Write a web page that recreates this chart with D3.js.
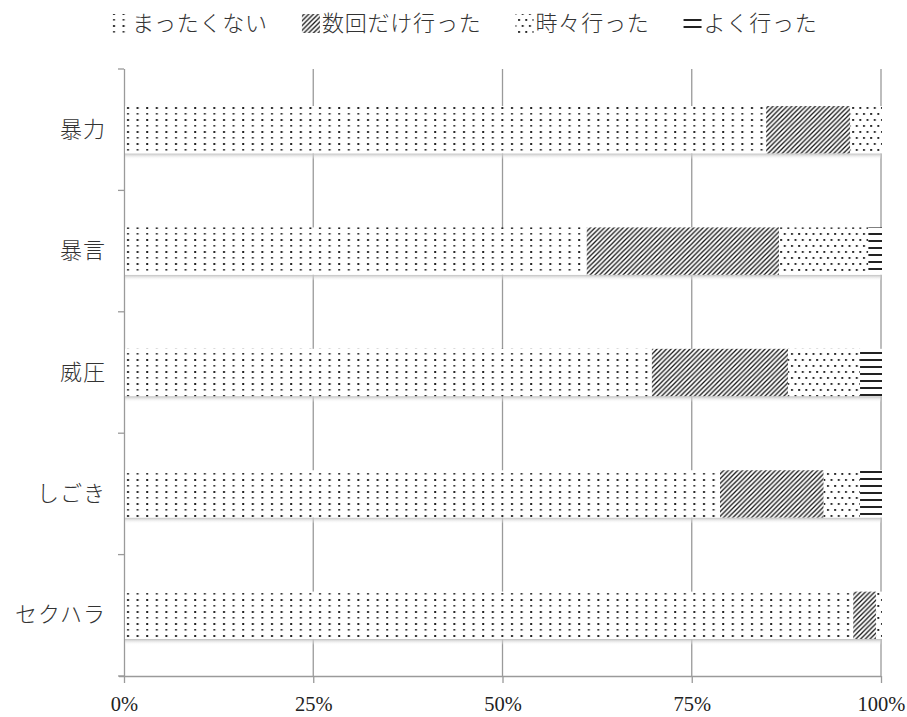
<!DOCTYPE html>
<html>
<head>
<meta charset="utf-8">
<script src="https://cdn.jsdelivr.net/npm/d3@7"></script>
<style>
  body { margin: 0; background: #fff; }
  svg { display: block; }
</style>
</head>
<body>
<div></div>
<script>
let categories = ["暴力", "暴言", "威圧", "しごき", "セクハラ"]
let series = ["まったくない", "数回だけ行った", "時々行った", "よく行った"]
let never = [84.7, 61.0, 69.6, 78.6, 96.2]
let fewTimes = [11.1, 25.4, 18.0, 13.7, 3.0]
let sometimes = [4.2, 11.8, 9.5, 4.8, 0.8]
let often = [0, 1.8, 2.9, 2.9, 0]
let tickValues = [0, 25, 50, 75, 100]
let tickLabels = ["0%", "25%", "50%", "75%", "100%"]

let W = 907, H = 717
let margin = {top: 69, right: 26, bottom: 41, left: 124}
let width = W - margin.left - margin.right
let height = H - margin.top - margin.bottom
let jpFont = "'Noto Sans CJK JP', 'Noto Sans', sans-serif"
let gridColor = "#9a9a9a"

let svg = d3.select("div")
    .append("svg")
    .attr("width", W)
    .attr("height", H)

// patterns
let defs = svg.append("defs")

let p0 = defs.append("pattern").attr("id", "pat0")
    .attr("patternUnits", "userSpaceOnUse").attr("width", 9.6).attr("height", 12)
p0.append("rect").attr("width", 9.6).attr("height", 12).attr("fill", "#fff")
p0.append("rect").attr("x", 3).attr("y", 2).attr("width", 2).attr("height", 2).attr("fill", "#222")
p0.append("rect").attr("x", 3).attr("y", 8).attr("width", 2).attr("height", 1.6).attr("fill", "#333")

let p1 = defs.append("pattern").attr("id", "pat1")
    .attr("patternUnits", "userSpaceOnUse").attr("width", 4.7).attr("height", 4.7)
p1.append("rect").attr("width", 4.7).attr("height", 4.7).attr("fill", "#fff")
p1.append("path").attr("d", "M-1,5.7 L5.7,-1 M-1,1 L1,-1 M3.7,5.7 L5.7,3.7")
    .attr("stroke", "#151515").attr("stroke-width", 1.3)

let p2 = defs.append("pattern").attr("id", "pat2")
    .attr("patternUnits", "userSpaceOnUse").attr("width", 7.2).attr("height", 12)
p2.append("rect").attr("width", 7.2).attr("height", 12).attr("fill", "#fff")
p2.append("rect").attr("x", 1).attr("y", 2).attr("width", 1.9).attr("height", 1.9).attr("fill", "#222")
p2.append("rect").attr("x", 4.6).attr("y", 8).attr("width", 1.9).attr("height", 1.9).attr("fill", "#222")

let p3 = defs.append("pattern").attr("id", "pat3")
    .attr("patternUnits", "userSpaceOnUse").attr("width", 8).attr("height", 7)
p3.append("rect").attr("width", 8).attr("height", 7).attr("fill", "#fff")
p3.append("rect").attr("y", 3).attr("width", 8).attr("height", 2).attr("fill", "#222")

let shade = defs.append("linearGradient").attr("id", "shade")
    .attr("x1", 0).attr("y1", 0).attr("x2", 0).attr("y2", 1)
shade.append("stop").attr("offset", "0%").attr("stop-color", "#bdbdbd")
shade.append("stop").attr("offset", "100%").attr("stop-color", "#fff").attr("stop-opacity", 0)

let g = svg.append("g")
    .attr("transform", "translate(" + margin.left + "," + margin.top + ")")

let x = d3.scaleLinear().domain([0, 100]).range([0, width])
let y = d3.scaleBand().domain(categories).range([0, height])
    .paddingInner(0.61).paddingOuter(0.305)

// gridlines
g.append("g")
    .selectAll("line")
    .data(tickValues.slice(1))
    .enter()
    .append("line")
    .attr("x1", function (d) { return x(d) })
    .attr("x2", function (d) { return x(d) })
    .attr("y1", 0)
    .attr("y2", height)
    .attr("stroke", gridColor)
    .attr("stroke-width", 1.3)

// x axis
let xAxis = g.append("g")
    .attr("transform", "translate(0," + height + ")")
    .call(d3.axisBottom(x).tickValues(tickValues).tickSize(7).tickPadding(13)
        .tickFormat(function (d, i) { return tickLabels[i] }))
xAxis.select(".domain").attr("d", "M-5,0.5H" + width).attr("stroke", gridColor).attr("stroke-width", 1.3)
xAxis.selectAll(".tick line").attr("stroke", gridColor).attr("stroke-width", 1.3)
xAxis.selectAll("text")
    .attr("font-family", "'Liberation Serif', 'Times New Roman', serif")
    .attr("font-size", 20.5)
    .attr("fill", "#222")

// y axis
let yAxis = g.append("g")
    .call(d3.axisLeft(y).tickSize(0).tickPadding(18))
yAxis.select(".domain").attr("d", "M0.5,0V" + height).attr("stroke", gridColor).attr("stroke-width", 1.3)
yAxis.selectAll("text")
    .attr("font-family", jpFont)
    .attr("font-weight", 300)
    .attr("font-size", 22)
    .attr("letter-spacing", 1)
    .attr("fill", "#333")
yAxis.append("g")
    .selectAll("line")
    .data(d3.range(categories.length + 1))
    .enter()
    .append("line")
    .attr("x1", -6)
    .attr("x2", 0)
    .attr("y1", function (d) { return d * y.step() })
    .attr("y2", function (d) { return d * y.step() })
    .attr("stroke", gridColor)
    .attr("stroke-width", 1.3)

// stacked data
let rows = categories.map(function (c, i) {
    return {cat: c, s0: never[i], s1: fewTimes[i], s2: sometimes[i], s3: often[i]}
})
let stack = d3.stack().keys(["s0", "s1", "s2", "s3"])(rows)

// bar shadow
g.append("g")
    .selectAll("rect")
    .data(rows)
    .enter()
    .append("rect")
    .attr("x", x(0) + 1)
    .attr("y", function (d) { return y(d.cat) + y.bandwidth() })
    .attr("width", x(100) - x(0) - 1)
    .attr("height", 6)
    .attr("fill", "url(#shade)")

g.append("g")
    .selectAll("g")
    .data(stack)
    .enter()
    .append("g")
    .attr("fill", function (d, i) { return "url(#pat" + i + ")" })
    .selectAll("rect")
    .data(function (d) { return d })
    .enter()
    .append("rect")
    .attr("x", function (d) { return x(d[0]) + 1 })
    .attr("y", function (d) { return y(d.data.cat) })
    .attr("width", function (d) { return Math.max(0, x(d[1]) - x(d[0])) })
    .attr("height", y.bandwidth())

// legend
let legend = svg.append("g").attr("transform", "translate(0,23)")
let items = legend.selectAll("g")
    .data(series)
    .enter()
    .append("g")
items.append("rect")
    .attr("x", 2)
    .attr("y", -9)
    .attr("width", 18)
    .attr("height", 19)
    .attr("fill", function (d, i) { return "url(#pat" + i + ")" })
items.append("text")
    .attr("x", 22)
    .attr("dy", "0.35em")
    .attr("font-family", jpFont)
    .attr("font-weight", 300)
    .attr("font-size", 22)
    .attr("letter-spacing", 0.8)
    .attr("fill", "#333")
    .text(function (d) { return d })

let pos = 110
items.each(function () {
    let w = 22 + d3.select(this).select("text").node().getComputedTextLength()
    d3.select(this).attr("transform", "translate(" + pos + ",0)")
    pos += w + 32
})
</script>
</body>
</html>
